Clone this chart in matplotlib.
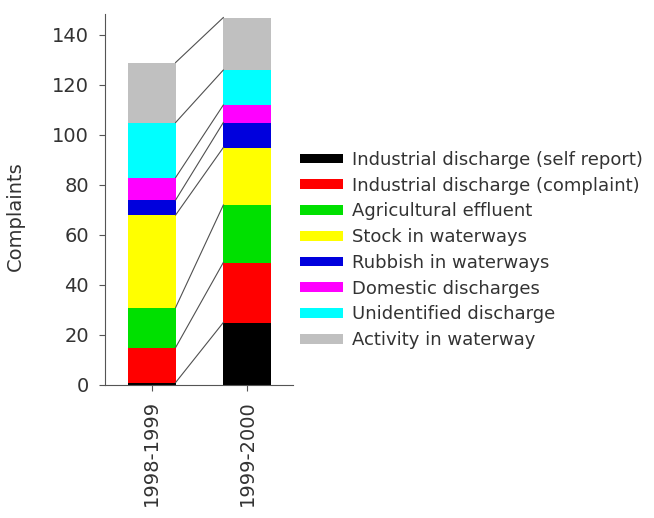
import matplotlib
matplotlib.use("Agg")
import matplotlib.pyplot as plt
import numpy as np

categories = ["1998-1999", "1999-2000"]
series_names = [
    "Industrial discharge (self report)",
    "Industrial discharge (complaint)",
    "Agricultural effluent",
    "Stock in waterways",
    "Rubbish in waterways",
    "Domestic discharges",
    "Unidentified discharge",
    "Activity in waterway",
]
industrial_self = [1, 25]
industrial_complaint = [14, 24]
agricultural = [16, 23]
stock = [37, 23]
rubbish = [6, 10]
domestic = [9, 7]
unidentified = [22, 14]
activity = [24, 21]
colors = ["#000000", "#ff0000", "#00e000", "#ffff00", "#0000dd",
          "#ff00ff", "#00ffff", "#c0c0c0"]
yticks = [0, 20, 40, 60, 80, 100, 120, 140]

series = [industrial_self, industrial_complaint, agricultural, stock,
          rubbish, domestic, unidentified, activity]

fig = plt.figure(figsize=(6.54, 5.18), dpi=100)
ax = fig.add_axes([105/654, 1-385/518, (293-105)/654, (385-14)/518])

x = np.arange(len(categories))
w = 0.5
bottom = np.zeros(len(categories))
handles = []
for name, vals, c in zip(series_names, series, colors):
    b = ax.bar(x, vals, w, bottom=bottom, color=c, label=name, linewidth=0)
    handles.append(b)
    bottom = bottom + np.array(vals)
    # connector line at top of this segment
    ax.plot([x[0] + w/2, x[1] - w/2], [bottom[0], bottom[1]],
            color="#505050", lw=0.8, zorder=3)

ax.set_xlim(-0.49, 1.48)
ax.set_ylim(0, 148.4)
ax.set_yticks(yticks)
ax.set_xticks(x)
ax.set_xticklabels(categories, rotation=90, fontsize=14, color="#333333")
ax.tick_params(axis="y", labelsize=14, labelcolor="#333333", color="#555555",
               length=4.5, direction="out", pad=7)
ax.tick_params(axis="x", color="#555555", length=4, direction="out", pad=7)
for s in ["top", "right"]:
    ax.spines[s].set_visible(False)
for s in ["left", "bottom"]:
    ax.spines[s].set_color("#555555")
ax.set_ylabel("Complaints", fontsize=14, color="#333333")
ax.yaxis.set_label_coords(-0.426, 0.455)

fig.legend(handles=handles, labels=series_names, loc="center left",
           bbox_to_anchor=(300/654, 1-250/518), frameon=False,
           borderaxespad=0, borderpad=0,
           fontsize=13, handlelength=2.4, handleheight=0.45,
           labelspacing=0.43, handletextpad=0.5, labelcolor="#333333")

fig.savefig("out.png", dpi=100)
